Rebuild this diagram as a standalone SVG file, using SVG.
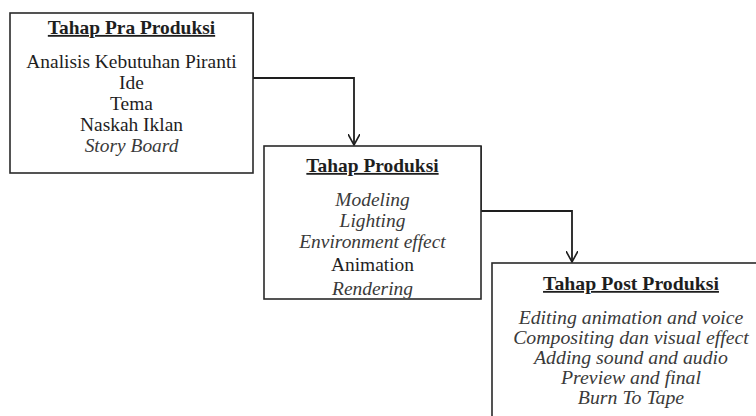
<svg xmlns="http://www.w3.org/2000/svg" width="756" height="416" viewBox="0 0 756 416">
<style>
.box{fill:#fff;stroke:#2a2a2a;stroke-width:1.6}
.t{font-family:"Liberation Serif","Times New Roman",serif;font-size:18px;text-anchor:middle;fill:#1e1e1e}
.h{font-weight:bold;text-decoration:underline}
.i{font-style:italic;fill:#3a3a3a}
.c{fill:none;stroke:#1e1e1e;stroke-width:1.8}
</style>
<defs>
<marker id="ah" viewBox="0 0 12 12" refX="11" refY="6" markerWidth="12" markerHeight="12" markerUnits="userSpaceOnUse" orient="auto">
<path d="M0,0 L11,6 L0,12" fill="none" stroke="#1e1e1e" stroke-width="1.6"/>
</marker>
<clipPath id="clip2"><rect x="264" y="146" width="217" height="152"/></clipPath>
</defs>
<rect width="756" height="416" fill="#fff"/>
<g id="connectors">
<path class="c" d="M253,13 V78 H354 V145" marker-end="url(#ah)"/>
<path class="c" d="M481,146 V211 H572 V262" marker-end="url(#ah)"/>
</g>
<g id="pra">
<rect class="box" x="10" y="13" width="243" height="160"/>
<g transform="translate(131.5,0) scale(1.08,1)">
<text class="t h" x="0" y="34">Tahap Pra Produksi</text>
<text class="t" x="0" y="68">Analisis Kebutuhan Piranti</text>
<text class="t" x="0" y="89">Ide</text>
<text class="t" x="0" y="110">Tema</text>
<text class="t" x="0" y="131">Naskah Iklan</text>
<text class="t i" x="0" y="152">Story Board</text>
</g>
</g>
<g id="produksi">
<rect class="box" x="264" y="146" width="217" height="153"/>
<g clip-path="url(#clip2)">
<g transform="translate(372.5,0) scale(1.08,1)">
<text class="t h" x="0" y="172">Tahap Produksi</text>
<text class="t i" x="0" y="206">Modeling</text>
<text class="t i" x="0" y="227">Lighting</text>
<text class="t i" x="0" y="248">Environment effect</text>
<text class="t" x="0" y="271">Animation</text>
<text class="t i" x="0" y="295">Rendering</text>
</g>
</g>
</g>
<g id="post">
<rect class="box" x="492" y="263" width="290" height="180"/>
<g transform="translate(631,0) scale(1.1,1)">
<text class="t h" x="0" y="290">Tahap Post Produksi</text>
<text class="t i" x="0" y="324">Editing animation and voice</text>
<text class="t i" x="0" y="344">Compositing dan visual effect</text>
<text class="t i" x="0" y="364">Adding sound and audio</text>
<text class="t i" x="0" y="384">Preview and final</text>
<text class="t i" x="0" y="404">Burn To Tape</text>
</g>
</g>
</svg>
